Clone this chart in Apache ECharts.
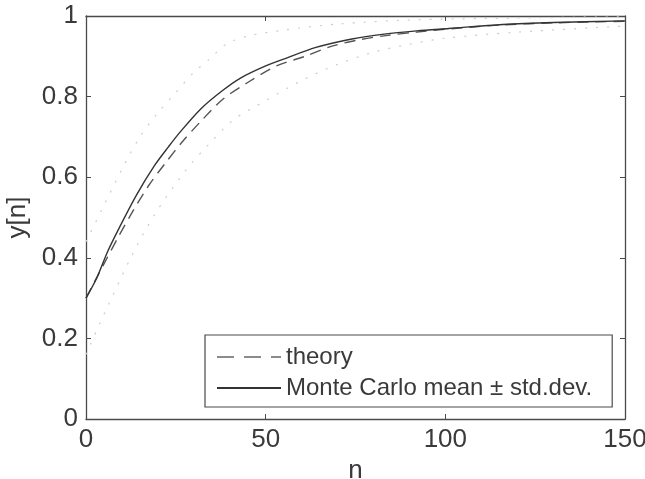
<!DOCTYPE html>
<html>
<head>
<meta charset="utf-8">
<script src="https://cdn.jsdelivr.net/npm/echarts@6/dist/echarts.min.js"></script>
<style>html,body{margin:0;padding:0;background:#fff}#c{width:645px;height:479px}</style>
</head>
<body>
<div id="c"></div>
<script>
// Data
const xTicks = [0, 50, 100, 150];
const yTicks = [0, 0.2, 0.4, 0.6, 0.8, 1];

const meanN = [0, 3, 6, 9, 14, 19, 23, 26, 32, 38, 43, 50, 55, 64, 74, 83, 92, 101, 116, 130, 150];
const meanY = [0.30, 0.35, 0.415, 0.47, 0.555, 0.628, 0.676, 0.71, 0.770, 0.815, 0.846, 0.876, 0.893, 0.922, 0.943, 0.955, 0.963, 0.969, 0.979, 0.984, 0.988];

const theoryN = [0, 5, 9, 13, 17.5, 22, 27, 32, 38, 45, 53, 61, 68, 76, 84, 92, 101, 116, 130, 150];
const theoryY = [0.30, 0.385, 0.452, 0.515, 0.58, 0.634, 0.69, 0.739, 0.793, 0.835, 0.876, 0.90, 0.924, 0.941, 0.952, 0.96, 0.968, 0.978, 0.983, 0.987];

const lowN = [0, 5, 13, 19, 28, 34, 41, 50, 60, 70, 80, 90, 100, 120, 150];
const lowY = [0.16, 0.26, 0.41, 0.506, 0.62, 0.68, 0.742, 0.79, 0.84, 0.88, 0.91, 0.93, 0.945, 0.96, 0.975];

const highN = [0, 5, 10, 15, 20, 25, 30, 34, 39, 45, 55, 70, 90, 120, 150];
const highY = [0.44, 0.53, 0.62, 0.70, 0.76, 0.81, 0.86, 0.89, 0.93, 0.95, 0.965, 0.98, 0.99, 0.995, 0.998];

const legendNames = ['theory', 'Monte Carlo mean \u00b1 std.dev.'];

const zip = (a, b) => a.map((v, i) => [v, b[i]]);
const FONT = 'Liberation Sans, Arial, sans-serif';
const TXT = '#3a3a3a';
const AX = '#4a4a4a';

const chart = echarts.init(document.getElementById('c'), null, {renderer: 'canvas'});
const baseAxisLine = {show: true, onZero: false, lineStyle: {color: AX, width: 1.3}};
const tickIn = {show: true, inside: true, length: 5, lineStyle: {color: AX}};
chart.setOption({
  animation: false,
  backgroundColor: '#fff',
  grid: {left: 86, right: 20, top: 16, bottom: 60, containLabel: false, outerBoundsMode: 'none'},
  xAxis: [{
    type: 'value', min: 0, max: 150, interval: 50,
    axisLine: baseAxisLine, axisTick: tickIn, splitLine: {show: false},
    axisLabel: {color: TXT, fontSize: 26, fontFamily: FONT, margin: 8},
    name: 'n', nameLocation: 'middle', nameGap: 33,
    nameTextStyle: {color: TXT, fontSize: 26, fontFamily: FONT}
  }, {
    type: 'value', min: 0, max: 150, interval: 50, position: 'top',
    axisLine: baseAxisLine, axisTick: tickIn, axisLabel: {show: false}, splitLine: {show: false}
  }],
  yAxis: [{
    type: 'value', min: 0, max: 1, interval: 0.2,
    axisLine: baseAxisLine, axisTick: tickIn, splitLine: {show: false},
    axisLabel: {color: TXT, fontSize: 26, fontFamily: FONT, margin: 8,
      formatter: v => String(Math.round(v * 10) / 10)},
    name: 'y[n]', nameLocation: 'middle', nameGap: 54, nameRotate: 90,
    nameTextStyle: {color: TXT, fontSize: 26, fontFamily: FONT}
  }, {
    type: 'value', min: 0, max: 1, interval: 0.2, position: 'right',
    axisLine: baseAxisLine, axisTick: tickIn, axisLabel: {show: false}, splitLine: {show: false}
  }],
  legend: {
    data: [
      {name: legendNames[0], lineStyle: {type: [17, 10], width: 1.3, color: '#666'}},
      {name: legendNames[1]}
    ],
    orient: 'vertical', align: 'left',
    left: 205, top: 335,
    padding: [10, 20, 7, 11],
    itemWidth: 64, itemHeight: 24, itemGap: 7,
    itemStyle: {opacity: 0},
    borderColor: AX, borderWidth: 1.2, backgroundColor: '#fff',
    textStyle: {color: TXT, fontSize: 24, fontFamily: FONT, lineHeight: 24},
    selectedMode: false
  },
  series: [{
    name: legendNames[0], type: 'line', data: zip(theoryN, theoryY),
    smooth: 0.3, symbol: 'none',
    lineStyle: {color: '#555', width: 1.4, type: [11, 7]}, itemStyle: {color: '#555'}, z: 3
  }, {
    name: legendNames[1], type: 'line', data: zip(meanN, meanY),
    smooth: 0.3, symbol: 'none',
    lineStyle: {color: '#333', width: 1.4}, itemStyle: {color: '#333'}, z: 4
  }, {
    name: 'low', type: 'line', data: zip(lowN, lowY),
    smooth: 0.3, symbol: 'none',
    lineStyle: {color: '#cccccc', width: 1.2, type: [2, 9]}, z: 2
  }, {
    name: 'high', type: 'line', data: zip(highN, highY),
    smooth: 0.3, symbol: 'none',
    lineStyle: {color: '#cccccc', width: 1.2, type: [2, 9]}, z: 2
  }]
});
</script>
</body>
</html>
